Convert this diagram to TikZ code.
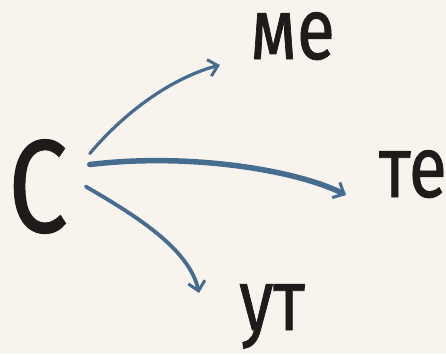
\documentclass[tikz,border=0pt]{standalone}
\usepackage{fontspec}
\setmainfont{Fira Sans}
\newfontfamily\inkfont{Fira Sans}[FakeBold=0.8,FakeStretch=0.8]
\usetikzlibrary{arrows.meta}
\definecolor{paper}{HTML}{F8F3EC}
\definecolor{ink}{HTML}{1F1B1B}
\definecolor{stroke}{HTML}{466C8F}

\begin{document}
\begin{tikzpicture}[x=1pt,y=-1pt,
  letter/.style={text=ink,inner sep=0pt,anchor=base,font=\inkfont\fontsize{132}{132}\selectfont},
  word/.style={text=ink,inner sep=0pt,anchor=base west,font=\inkfont\fontsize{87}{87}\selectfont},
  ar/.style={draw=stroke,line cap=round,line width=3.2pt,
             -{Straight Barb[length=9pt,width=17pt,line width=3pt]}}
]
\useasboundingbox (0,0) rectangle (446,354);
\fill[paper] (0,0) rectangle (446,354);

\node[letter] (s) at (38,232) {С};
\node[word] (me) at (250,59) {ме};
\node[word] (te) at (379,197) {те};
\node[word] (ut) at (239,330) {ут};

% three strokes out of the letter
\draw[ar] ([xshift=22pt,yshift=33pt]s.east)
  .. controls +(38,-45) and +(-45,12) .. ([xshift=-30pt,yshift=-6pt]me.base west);
\draw[ar,line width=5.5pt] ([xshift=22pt,yshift=22pt]s.east)
  .. controls +(100,-12) and +(-50,-25) .. ([xshift=-33pt,yshift=2pt]te.base west);
\draw[ar,line width=3.8pt] ([xshift=18pt]s.east)
  .. controls +(48,28) and +(-10,-45) .. ([xshift=-40pt,yshift=37pt]ut.base west);
\end{tikzpicture}
\end{document}
